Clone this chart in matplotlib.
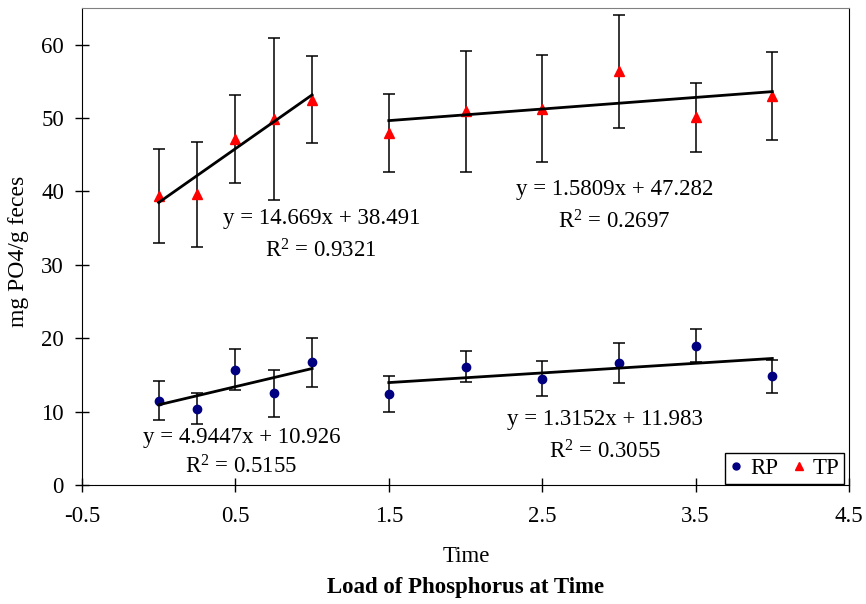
import numpy as np
import matplotlib.pyplot as plt
from matplotlib.lines import Line2D

plt.rcParams['font.family'] = ['Liberation Serif', 'DejaVu Serif']
plt.rcParams['font.size'] = 16.5
plt.rcParams['mathtext.fontset'] = 'custom'
plt.rcParams['mathtext.rm'] = 'Liberation Serif'
plt.rcParams['mathtext.it'] = 'Liberation Serif:italic'

# --- data ---
t_early = [0, 0.25, 0.5, 0.75, 1]
t_late = [1.5, 2, 2.5, 3, 3.5, 4]

tp_early = [39.4, 39.6, 47.1, 49.9, 52.5]
tp_early_err = [6.4, 7.2, 6.0, 11.0, 5.9]
tp_late = [48.0, 50.9, 51.3, 56.4, 50.1, 53.0]
tp_late_err = [5.3, 8.3, 7.3, 7.7, 4.7, 6.0]

rp_early = [11.5, 10.4, 15.7, 12.5, 16.7]
rp_early_err = [2.7, 2.1, 2.8, 3.2, 3.3]
rp_late = [12.4, 16.1, 14.5, 16.6, 19.0, 14.8]
rp_late_err = [2.4, 2.1, 2.4, 2.7, 2.3, 2.2]

# trendline coefficients (slope, intercept, R^2) as printed on the chart
fit_tp_early = (14.669, 38.491, 0.9321)
fit_tp_late = (1.5809, 47.282, 0.2697)
fit_rp_early = (4.9447, 10.926, 0.5155)
fit_rp_late = (1.3152, 11.983, 0.3055)

x_ticks = [-0.5, 0.5, 1.5, 2.5, 3.5, 4.5]
y_ticks = [0, 10, 20, 30, 40, 50, 60]

# --- plot ---
fig = plt.figure(figsize=(8.66, 6.04), dpi=100)
ax = fig.add_axes([82 / 866, 1 - 485 / 604, 767 / 866, 477 / 604])

rp_color = '#000080'
tp_color = '#ff0000'

for t, y, e in [(t_early, rp_early, rp_early_err), (t_late, rp_late, rp_late_err)]:
    ax.errorbar(t, y, yerr=e, fmt='o', color=rp_color, ms=6, ecolor='black',
                elinewidth=1.1, capsize=4, capthick=1.1, zorder=3)
for t, y, e in [(t_early, tp_early, tp_early_err), (t_late, tp_late, tp_late_err)]:
    ax.errorbar(t, y, yerr=e, fmt='^', color=tp_color, ms=7, ecolor='black',
                elinewidth=1.1, capsize=4, capthick=1.1, zorder=3)

# trend lines
for t, fit in [(t_early, fit_tp_early), (t_late, fit_tp_late),
               (t_early, fit_rp_early), (t_late, fit_rp_late)]:
    xs = np.array([t[0], t[-1]])
    ax.plot(xs, fit[0] * xs + fit[1], color='black', lw=2.0, zorder=4)

# equation labels
labels = [(fit_tp_early, 1.06, 36.25, 31.9),
          (fit_tp_late, 2.97, 40.2, 35.8),
          (fit_rp_early, 0.54, 6.54, 2.45),
          (fit_rp_late, 2.91, 8.86, 4.5)]
for fit, lx, ly_eq, ly_r in labels:
    ax.text(lx, ly_eq, f'y = {fit[0]:g}x + {fit[1]:g}', ha='center', va='center', zorder=5)
    ax.text(lx, ly_r, f'R$^2$ = {fit[2]:.4f}', ha='center', va='center', zorder=5)

ax.set_xlim(-0.5, 4.5)
ax.set_ylim(0, 65)
ax.set_xticks(x_ticks)
ax.set_xticklabels([f'{v:g}' for v in x_ticks])
ax.set_yticks(y_ticks)
ax.tick_params(direction='inout', length=10, width=1, labelsize=16.5, pad=10)
ax.tick_params(axis='y', pad=8)
ax.spines['top'].set_color('#808080')
for s in ['left', 'bottom', 'right']:
    ax.spines[s].set_color('black')

fig.text(466 / 866, 1 - 556 / 604, 'Time', ha='center', va='center', fontsize=16.5)
fig.text(19 / 866, 1 - 251 / 604, 'mg PO4/g feces', rotation=90, ha='center', va='center', fontsize=17)
fig.text(466 / 866, 1 - 588 / 604, 'Load of Phosphorus at Time', ha='center', va='center',
         fontsize=16.5, fontweight='bold')

handles = [Line2D([], [], ls='none', marker='o', color=rp_color, ms=5),
           Line2D([], [], ls='none', marker='^', color=tp_color, ms=6)]
leg = ax.legend(handles, ['RP', 'TP'], ncol=2, loc='lower right', bbox_to_anchor=(0.993, 0.003),
                borderaxespad=0, fancybox=False, edgecolor='black', framealpha=1,
                handlelength=0.6, handletextpad=0.3, columnspacing=0.6, borderpad=0.2,
                fontsize=16.5)
leg.get_frame().set_linewidth(1.0)

fig.savefig('out.png', dpi=100)
